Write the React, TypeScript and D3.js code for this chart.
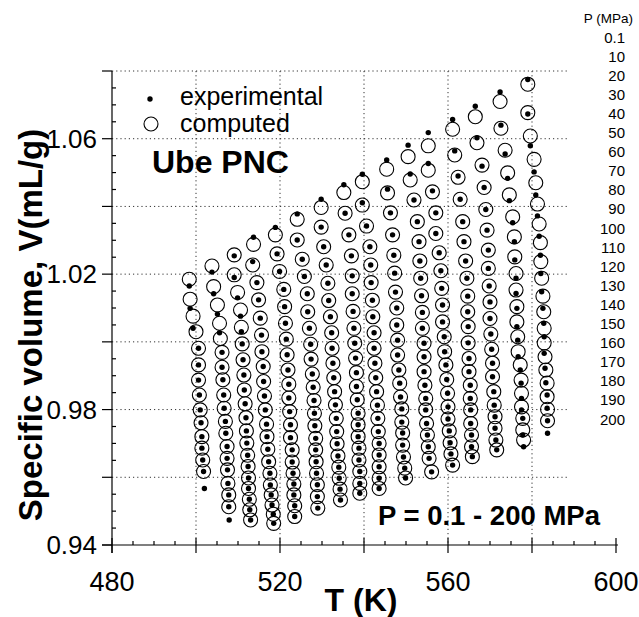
import React, { useEffect, useRef } from 'react';
import * as d3 from 'd3';

// each row: [T (K), computed V (mL/g), experimental V (mL/g)]
type Row = [number, number | null, number | null];

const iso500: Row[] = [
  [498.4, 1.0185, 1.0165], [498.6, 1.0126, 1.0099], [499.3, 1.0076, 1.0040], [500.0, 1.0030, null],
  [500.6, 0.9981, 0.9981], [500.6, 0.9932, 0.9932], [500.6, 0.9887, 0.9887], [500.8, 0.9843, 0.9843],
  [501.0, 0.9799, 0.9799], [501.2, 0.9761, 0.9761], [501.4, 0.9720, 0.9720], [501.4, 0.9686, 0.9686],
  [501.6, 0.9651, 0.9651], [501.8, 0.9617, 0.9617], [502.0, null, 0.9567],
];
const iso505: Row[] = [
  [503.8, 1.0224, 1.0206], [504.2, 1.0163, 1.0142], [505.1, 1.0109, 1.0082], [505.6, 1.0055, 1.0027],
  [505.8, 1.0010, null], [506.2, 0.9969, 0.9969], [506.2, 0.9925, 0.9925], [506.4, 0.9888, 0.9888],
  [506.6, 0.9843, 0.9843], [506.7, 0.9804, 0.9804], [507.0, 0.9765, 0.9765], [507.1, 0.9730, 0.9730],
  [507.4, 0.9691, 0.9691], [507.4, 0.9656, 0.9656], [507.5, 0.9622, 0.9622], [507.6, 0.9582, 0.9582],
  [507.8, 0.9548, 0.9548], [507.8, 0.9513, 0.9513], [507.9, null, 0.9474],
];
const iso510: Row[] = [
  [509.1, 1.0257, 1.0254], [509.1, 1.0198, 1.0190], [509.9, 1.0146, 1.0130], [510.6, 1.0094, 1.0076],
  [510.8, 1.0043, 1.0030], [511.0, 0.9994, 0.9994], [511.2, 0.9947, 0.9947], [511.4, 0.9902, 0.9902],
  [511.5, 0.9858, 0.9858], [511.7, 0.9817, 0.9817], [511.9, 0.9776, 0.9776], [512.0, 0.9737, 0.9737],
  [512.1, 0.9701, 0.9701], [512.3, 0.9665, 0.9665], [512.4, 0.9632, 0.9632], [512.5, 0.9598, 0.9598],
  [512.5, 0.9567, 0.9567], [512.7, 0.9535, 0.9535], [512.8, 0.9504, 0.9504], [513.0, 0.9474, 0.9474],
];
const iso515: Row[] = [
  [513.7, 1.0288, 1.0309], [513.5, 1.0227, 1.0237], [514.5, 1.0175, 1.0175], [514.9, 1.0124, 1.0124],
  [515.3, 1.0070, 1.0070], [515.6, 1.0020, 1.0020], [515.7, 0.9971, 0.9971], [516.0, 0.9927, 0.9927],
  [516.1, 0.9883, 0.9883], [516.3, 0.9840, 0.9840], [516.5, 0.9799, 0.9799], [516.8, 0.9757, 0.9757],
  [516.9, 0.9720, 0.9720], [517.1, 0.9683, 0.9683], [517.3, 0.9646, 0.9646], [517.6, 0.9612, 0.9612],
  [517.7, 0.9577, 0.9577], [517.9, 0.9548, 0.9548], [518.1, 0.9518, 0.9518], [518.4, 0.9491, 0.9491],
  [518.5, 0.9464, 0.9464],
];
const iso520: Row[] = [
  [518.9, 1.0316, 1.0338], [519.3, 1.0260, 1.0260], [519.9, 1.0208, 1.0208], [520.9, 1.0155, 1.0155],
  [521.1, 1.0104, 1.0104], [521.3, 1.0055, 1.0055], [521.5, 1.0008, 1.0008], [521.7, 0.9962, 0.9962],
  [521.9, 0.9917, 0.9917], [522.1, 0.9875, 0.9875], [522.1, 0.9834, 0.9834], [522.3, 0.9794, 0.9794],
  [522.5, 0.9755, 0.9755], [522.5, 0.9717, 0.9717], [522.9, 0.9681, 0.9681], [522.9, 0.9645, 0.9645],
  [523.1, 0.9612, 0.9612], [523.3, 0.9580, 0.9580], [523.3, 0.9548, 0.9548], [523.5, 0.9516, 0.9516],
  [523.5, 0.9484, 0.9484],
];
const iso525: Row[] = [
  [524.1, 1.0362, 1.0378], [524.1, 1.0301, 1.0301], [525.3, 1.0244, 1.0244], [525.8, 1.0193, 1.0193],
  [526.5, 1.0142, 1.0142], [526.6, 1.0089, 1.0089], [527.0, 1.0040, 1.0040], [527.3, 0.9993, 0.9993],
  [527.4, 0.9949, 0.9949], [527.7, 0.9905, 0.9905], [527.9, 0.9866, 0.9866], [528.1, 0.9827, 0.9827],
  [528.2, 0.9789, 0.9789], [528.3, 0.9752, 0.9752], [528.5, 0.9715, 0.9715], [528.5, 0.9681, 0.9681],
  [528.6, 0.9646, 0.9646], [528.7, 0.9612, 0.9612], [528.9, 0.9578, 0.9578], [528.9, 0.9543, 0.9543],
  [529.0, 0.9509, 0.9509],
];
const iso530: Row[] = [
  [529.8, 1.0397, 1.0421], [529.8, 1.0339, 1.0339], [530.4, 1.0281, 1.0281], [531.0, 1.0227, 1.0227],
  [531.4, 1.0173, 1.0173], [531.6, 1.0122, 1.0122], [532.0, 1.0074, 1.0074], [532.3, 1.0027, 1.0027],
  [532.4, 0.9981, 0.9981], [532.6, 0.9937, 0.9937], [532.8, 0.9894, 0.9894], [533.0, 0.9853, 0.9853],
  [533.2, 0.9814, 0.9814], [533.4, 0.9774, 0.9774], [533.5, 0.9735, 0.9735], [533.6, 0.9699, 0.9699],
  [533.8, 0.9663, 0.9663], [534.0, 0.9630, 0.9630], [534.1, 0.9597, 0.9597], [534.3, 0.9565, 0.9565],
  [534.4, 0.9533, 0.9533],
];
const iso535: Row[] = [
  [535.2, 1.0441, 1.0464], [535.5, 1.0380, 1.0380], [536.4, 1.0316, 1.0316], [537.0, 1.0254, 1.0254],
  [537.2, 1.0195, 1.0195], [537.2, 1.0142, 1.0142], [537.4, 1.0090, 1.0090], [537.6, 1.0040, 1.0040],
  [537.8, 0.9996, 0.9996], [538.0, 0.9952, 0.9952], [538.2, 0.9909, 0.9909], [538.2, 0.9868, 0.9868],
  [538.4, 0.9829, 0.9829], [538.6, 0.9789, 0.9789], [538.6, 0.9755, 0.9755], [538.6, 0.9720, 0.9720],
  [538.8, 0.9686, 0.9686], [538.8, 0.9651, 0.9651], [539.0, 0.9617, 0.9617], [539.0, 0.9582, 0.9582],
  [539.0, 0.9553, 0.9553],
];
const iso540: Row[] = [
  [539.6, 1.0473, 1.0495], [539.6, 1.0404, 1.0411], [540.6, 1.0342, 1.0342], [541.4, 1.0281, 1.0281],
  [541.6, 1.0227, 1.0227], [541.7, 1.0175, 1.0175], [542.0, 1.0123, 1.0123], [542.1, 1.0074, 1.0074],
  [542.4, 1.0027, 1.0027], [542.4, 0.9981, 0.9981], [542.6, 0.9937, 0.9937], [542.8, 0.9894, 0.9894],
  [543.0, 0.9853, 0.9853], [543.2, 0.9813, 0.9813], [543.3, 0.9774, 0.9774], [543.4, 0.9735, 0.9735],
  [543.6, 0.9700, 0.9700], [543.6, 0.9666, 0.9666], [543.6, 0.9631, 0.9631], [543.6, 0.9597, 0.9597],
  [543.6, 0.9567, 0.9567],
];
const iso545: Row[] = [
  [545.4, 1.0510, 1.0537], [545.6, 1.0440, 1.0451], [546.3, 1.0381, 1.0381], [546.8, 1.0316, 1.0316],
  [547.1, 1.0256, 1.0256], [547.3, 1.0203, 1.0203], [547.5, 1.0147, 1.0147], [547.8, 1.0100, 1.0100],
  [547.8, 1.0050, 1.0050], [548.0, 1.0005, 1.0005], [548.0, 0.9961, 0.9961], [548.3, 0.9917, 0.9917],
  [548.5, 0.9878, 0.9878], [548.7, 0.9837, 0.9837], [549.0, 0.9802, 0.9802], [549.0, 0.9763, 0.9763],
  [549.2, 0.9731, 0.9731], [549.2, 0.9695, 0.9695], [549.4, 0.9660, 0.9660], [549.7, 0.9627, 0.9627],
  [549.9, 0.9598, 0.9598],
];
const iso550: Row[] = [
  [550.5, 1.0547, 1.0581], [551.0, 1.0478, 1.0496], [551.9, 1.0419, 1.0419], [552.7, 1.0355, 1.0355],
  [553.1, 1.0296, 1.0296], [553.3, 1.0239, 1.0239], [553.5, 1.0188, 1.0188], [553.7, 1.0136, 1.0136],
  [553.9, 1.0087, 1.0087], [553.9, 1.0040, 1.0040], [554.3, 0.9996, 0.9996], [554.3, 0.9956, 0.9956],
  [554.3, 0.9912, 0.9912], [554.5, 0.9872, 0.9872], [554.7, 0.9833, 0.9833], [554.7, 0.9799, 0.9799],
  [554.9, 0.9759, 0.9759], [555.1, 0.9725, 0.9725], [555.3, 0.9690, 0.9690], [555.5, 0.9656, 0.9656],
  [556.1, 0.9616, 0.9616],
];
const iso555: Row[] = [
  [555.3, 1.0579, 1.0618], [555.3, 1.0507, 1.0527], [556.3, 1.0443, 1.0446], [557.1, 1.0381, 1.0381],
  [557.1, 1.0320, 1.0320], [557.9, 1.0263, 1.0263], [558.3, 1.0210, 1.0210], [558.5, 1.0158, 1.0158],
  [558.7, 1.0109, 1.0109], [558.7, 1.0059, 1.0059], [559.1, 1.0015, 1.0015], [559.2, 0.9971, 0.9971],
  [559.5, 0.9932, 0.9932], [559.7, 0.9889, 0.9889], [559.9, 0.9848, 0.9848], [560.0, 0.9808, 0.9808],
  [560.0, 0.9772, 0.9772], [560.3, 0.9737, 0.9737], [560.5, 0.9702, 0.9702], [560.7, 0.9669, 0.9669],
  [561.1, 0.9636, 0.9636],
];
const iso561: Row[] = [
  [561.1, 1.0628, 1.0657], [561.6, 1.0552, 1.0564], [562.4, 1.0486, 1.0490], [562.9, 1.0421, 1.0421],
  [563.5, 1.0355, 1.0355], [563.8, 1.0296, 1.0296], [564.2, 1.0239, 1.0239], [564.5, 1.0188, 1.0188],
  [564.7, 1.0135, 1.0135], [564.7, 1.0089, 1.0089], [564.8, 1.0045, 1.0045], [564.8, 0.9997, 0.9997],
  [565.0, 0.9951, 0.9951], [565.0, 0.9912, 0.9912], [565.3, 0.9872, 0.9872], [565.3, 0.9833, 0.9833],
  [565.4, 0.9799, 0.9799], [565.4, 0.9759, 0.9759], [565.6, 0.9725, 0.9725], [565.6, 0.9690, 0.9690],
  [565.8, 0.9661, 0.9661],
];
const iso567: Row[] = [
  [566.5, 1.0665, 1.0696], [566.9, 1.0588, 1.0603], [568.1, 1.0522, 1.0519], [568.6, 1.0456, 1.0456],
  [569.0, 1.0391, 1.0391], [569.3, 1.0330, 1.0330], [569.6, 1.0271, 1.0271], [569.6, 1.0217, 1.0217],
  [569.8, 1.0165, 1.0165], [570.0, 1.0118, 1.0118], [570.0, 1.0069, 1.0069], [570.2, 1.0023, 1.0023],
  [570.4, 0.9978, 0.9978], [570.6, 0.9937, 0.9937], [570.6, 0.9897, 0.9897], [570.9, 0.9853, 0.9853],
  [571.0, 0.9813, 0.9813], [571.2, 0.9779, 0.9779], [571.2, 0.9745, 0.9745], [571.4, 0.9710, 0.9710],
  [571.6, 0.9681, 0.9681],
];
const iso573: Row[] = [
  [572.4, 1.0710, 1.0738], [572.6, 1.0631, 1.0640], [573.6, 1.0566, 1.0555], [574.2, 1.0499, 1.0483],
  [574.6, 1.0434, 1.0417], [575.4, 1.0369, 1.0352], [575.8, 1.0310, 1.0296], [575.9, 1.0251, 1.0242],
  [576.2, 1.0202, 1.0188], [576.2, 1.0153, 1.0143], [576.4, 1.0104, 1.0099], [576.4, 1.0059, 1.0045],
  [576.6, 1.0015, 1.0005], [576.7, 0.9971, 0.9956], [577.2, 0.9932, 0.9917], [577.4, 0.9887, 0.9878],
  [577.5, 0.9848, 0.9833], [577.5, 0.9808, 0.9799], [577.8, 0.9774, 0.9774], [577.8, 0.9740, 0.9725],
  [578.0, 0.9710, 0.9690],
];
const iso580: Row[] = [
  [579.0, 1.0761, 1.0775], [579.0, 1.0677, 1.0673], [579.6, 1.0608, 1.0579], [580.5, 1.0539, 1.0502],
  [580.9, 1.0470, 1.0434], [581.3, 1.0407, 1.0372], [581.7, 1.0348, 1.0312], [582.0, 1.0293, 1.0256],
  [582.1, 1.0237, 1.0202], [582.3, 1.0188, 1.0148], [582.6, 1.0135, 1.0099], [582.8, 1.0089, 1.0055],
  [582.9, 1.0040, 1.0015], [582.9, 0.9997, 0.9966], [583.1, 0.9956, 0.9922], [583.3, 0.9917, 0.9879],
  [583.6, 0.9878, 0.9843], [583.6, 0.9838, 0.9804], [583.7, 0.9801, 0.9767], [583.7, 0.9767, 0.9730],
];

const isotherms = [
  iso500, iso505, iso510, iso515, iso520, iso525, iso530, iso535,
  iso540, iso545, iso550, iso555, iso561, iso567, iso573, iso580,
];

const pressureLabels = [
  '0.1', '10', '20', '30', '40', '50', '60', '70', '80', '90', '100',
  '110', '120', '130', '140', '150', '160', '170', '180', '190', '200',
];
const tempLabels = [480, 520, 560, 600];
const volumeLabels = [0.94, 0.98, 1.02, 1.06];

const FONT = '"Liberation Sans", Arial, Helvetica, sans-serif';

const App: React.FC = () => {
  const svgRef = useRef<SVGSVGElement>(null);

  useEffect(() => {
    if (!svgRef.current) return;
    const svg = d3.select(svgRef.current);
    svg.selectAll('*').remove();

    const x = d3.scaleLinear().domain([480, 600]).range([112, 616]);
    const y = d3.scaleLinear().domain([0.94, 1.08]).range([545, 71]);
    const gridRight = 567;

    svg.append('rect').attr('width', 639).attr('height', 617).attr('fill', '#fff');

    // dotted grid
    const grid = svg.append('g')
      .attr('stroke', '#333')
      .attr('stroke-width', 1)
      .attr('stroke-dasharray', '1.2,3');
    grid.selectAll('line.h')
      .data(y.ticks(7).filter(v => v > 0.941))
      .enter().append('line')
      .attr('x1', x(480)).attr('x2', gridRight)
      .attr('y1', d => y(d)).attr('y2', d => y(d));
    grid.selectAll('line.v')
      .data(x.ticks(6).filter(t => t > 480 && t < 600))
      .enter().append('line')
      .attr('x1', d => x(d)).attr('x2', d => x(d))
      .attr('y1', y(1.08)).attr('y2', y(0.94));

    // axes
    const axes = svg.append('g').attr('stroke', '#000').attr('stroke-width', 1.2);
    axes.append('line').attr('x1', x(480)).attr('x2', x(480)).attr('y1', y(1.08)).attr('y2', y(0.94) + 8);
    axes.append('line').attr('x1', x(480) - 10).attr('x2', x(600) + 2).attr('y1', y(0.94)).attr('y2', y(0.94));

    const yMajor = y.ticks(7);
    const yMinor = y.ticks(28).filter(v => !yMajor.some(m => Math.abs(m - v) < 1e-6));
    axes.selectAll('line.ym').data(yMajor).enter().append('line')
      .attr('x1', x(480) - 10).attr('x2', x(480))
      .attr('y1', d => y(d)).attr('y2', d => y(d));
    axes.selectAll('line.yn').data(yMinor).enter().append('line')
      .attr('x1', x(480)).attr('x2', x(480) + 4)
      .attr('y1', d => y(d)).attr('y2', d => y(d));

    const xMajor = x.ticks(6);
    const xMinor = x.ticks(24).filter(t => t % 20 !== 0);
    axes.selectAll('line.xm').data(xMajor).enter().append('line')
      .attr('x1', d => x(d)).attr('x2', d => x(d))
      .attr('y1', y(0.94) - 7).attr('y2', y(0.94) + 8);
    axes.selectAll('line.xn').data(xMinor).enter().append('line')
      .attr('x1', d => x(d)).attr('x2', d => x(d))
      .attr('y1', y(0.94) - 4).attr('y2', y(0.94));

    // tick labels
    svg.append('g')
      .attr('font-family', FONT).attr('font-size', 26).attr('text-anchor', 'end')
      .selectAll('text').data(volumeLabels).enter().append('text')
      .attr('x', 97).attr('y', d => y(d) + 9)
      .text(d => d.toFixed(2));
    svg.append('g')
      .attr('font-family', FONT).attr('font-size', 27).attr('text-anchor', 'middle')
      .selectAll('text').data(tempLabels).enter().append('text')
      .attr('x', d => x(d)).attr('y', 591)
      .text(d => String(d));

    // axis titles
    svg.append('text')
      .attr('font-family', FONT).attr('font-size', 32).attr('font-weight', 'bold')
      .attr('text-anchor', 'middle').attr('x', 361).attr('y', 611)
      .text('T (K)');
    svg.append('text')
      .attr('font-family', FONT).attr('font-size', 33).attr('font-weight', 'bold')
      .attr('text-anchor', 'middle')
      .attr('transform', 'translate(42,325) rotate(-90)')
      .text('Specific volume, V(mL/g)');

    // computed (open circles) then experimental (dots)
    const pts = svg.append('g');
    isotherms.forEach(rows => {
      pts.append('g').selectAll('circle')
        .data(rows.filter(r => r[1] !== null))
        .enter().append('circle')
        .attr('cx', d => x(d[0])).attr('cy', d => y(d[1] as number))
        .attr('r', 7).attr('fill', 'none').attr('stroke', '#000').attr('stroke-width', 1.1);
    });
    isotherms.forEach(rows => {
      pts.append('g').selectAll('circle')
        .data(rows.filter(r => r[2] !== null))
        .enter().append('circle')
        .attr('cx', d => x(d[0])).attr('cy', d => y(d[2] as number))
        .attr('r', 2.7).attr('fill', '#000');
    });

    // legend
    const legend = svg.append('g').attr('font-family', FONT);
    legend.append('circle').attr('cx', 150).attr('cy', 99).attr('r', 2.7).attr('fill', '#000');
    legend.append('text').attr('x', 180).attr('y', 105).attr('font-size', 25).text('experimental');
    legend.append('circle').attr('cx', 151).attr('cy', 124).attr('r', 7)
      .attr('fill', 'none').attr('stroke', '#000').attr('stroke-width', 1.1);
    legend.append('text').attr('x', 180).attr('y', 132).attr('font-size', 25).text('computed');
    legend.append('text').attr('x', 152).attr('y', 173).attr('font-size', 32)
      .attr('font-weight', 'bold').text('Ube PNC');

    svg.append('text')
      .attr('font-family', FONT).attr('font-size', 27.5).attr('font-weight', 'bold')
      .attr('x', 378).attr('y', 525)
      .text('P = 0.1 - 200 MPa');

    // pressure list on the right
    const plist = svg.append('g').attr('font-family', FONT).attr('text-anchor', 'end');
    plist.append('text').attr('x', 633).attr('y', 23).attr('font-size', 13.5).text('P (MPa)');
    plist.selectAll('text.p').data(pressureLabels).enter().append('text')
      .attr('x', 625).attr('y', (d, i) => 42.5 + i * 19.1)
      .attr('font-size', 15)
      .text(d => d);
  }, []);

  return (
    <svg
      ref={svgRef}
      width={639}
      height={617}
      style={{ position: 'absolute', left: 0, top: 0, display: 'block' }}
    />
  );
};

export default App;
